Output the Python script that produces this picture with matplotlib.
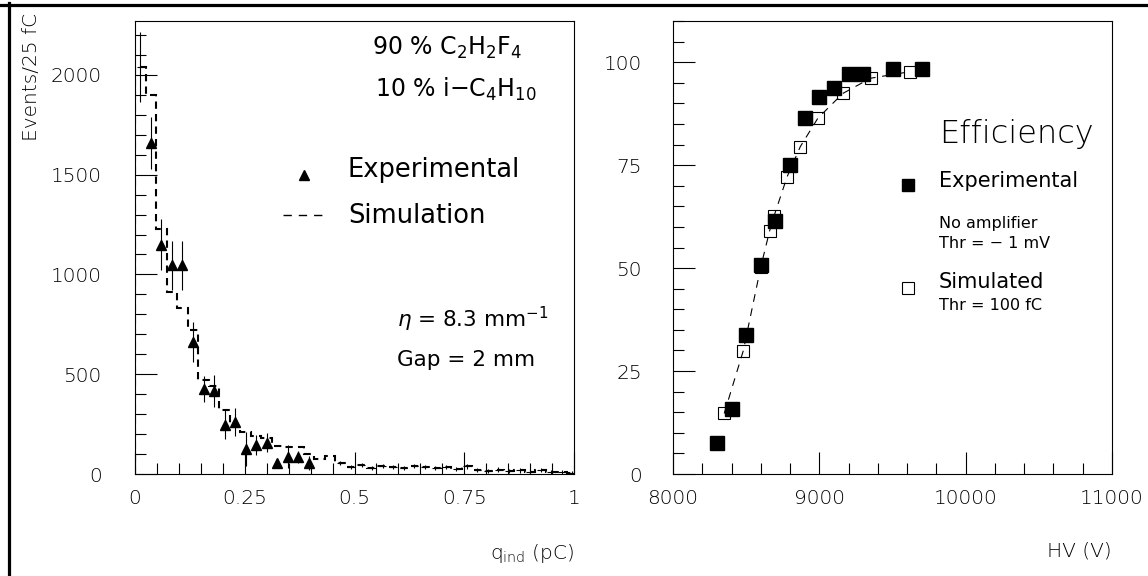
import numpy as np
import matplotlib
matplotlib.use('Agg')
import matplotlib.pyplot as plt
from matplotlib.lines import Line2D
from matplotlib.ticker import MultipleLocator, FixedLocator

plt.rcParams['font.family'] = ['DejaVu Sans']
plt.rcParams['mathtext.default'] = 'regular'

# induced charge spectrum (left), bin width in pC
bin_width = 0.024
exp_q = [0.037, 0.060, 0.084, 0.108, 0.132, 0.157, 0.180, 0.205,
         0.228, 0.252, 0.275, 0.300, 0.324, 0.348, 0.372, 0.396]
exp_counts = [1660, 1148, 1045, 1045, 663, 424, 416, 246,
              259, 125, 145, 157, 54, 87, 84, 54]
exp_err = [130, 128, 125, 125, 100, 65, 80, 73,
           70, 85, 50, 48, 20, 57, 29, 35]

sim_counts = [2040, 1900, 1230, 910, 830, 720, 470, 440, 320, 240,
              210, 190, 180, 140, 135, 135, 100, 75, 88, 55,
              35, 45, 30, 40, 35, 30, 40, 35, 30, 35,
              25, 38, 20, 15, 22, 15, 18, 12, 20, 10, 8, 5]
sim_err = [175] + [0] * 18 + [12] * 23

# efficiency curve (right)
exp_hv = [8300, 8400, 8500, 8600, 8700, 8800, 8900, 9000, 9100, 9200, 9300, 9500, 9700]
exp_eff = [7.5, 15.8, 33.8, 50.8, 61.5, 75.0, 86.5, 91.6, 93.7, 97.1, 97.1, 98.3, 98.3]
sim_hv = [8350, 8480, 8600, 8660, 8690, 8780, 8870, 8990, 9160, 9350, 9620]
sim_eff = [14.7, 29.9, 50.3, 59.0, 62.6, 72.2, 79.5, 86.4, 92.4, 96.1, 97.7]

q_ticks = [0, 0.25, 0.5, 0.75, 1]
q_ticklabels = ['0', '0.25', '0.5', '0.75', '1']
n_ticks = [0, 500, 1000, 1500, 2000]
hv_ticks = [8000, 9000, 10000, 11000]
eff_ticks = [0, 25, 50, 75, 100]

tick_fs = 14.5
lw = 0.8

fig = plt.figure(figsize=(11.48, 5.76), dpi=100)
ax1 = fig.add_axes([135 / 1148, 102 / 576, 439 / 1148, 453 / 576])
ax2 = fig.add_axes([673 / 1148, 102 / 576, 439 / 1148, 453 / 576])

for ax in (ax1, ax2):
    for s in ax.spines.values():
        s.set_linewidth(lw)
    ax.tick_params(which='both', direction='in', top=False, right=False,
                   width=lw, labelsize=tick_fs)
    ax.tick_params(which='major', length=15.8)
    ax.tick_params(which='minor', length=8)
    ax.tick_params(axis='x', pad=11)

# ---- left: charge spectrum ----
edges = np.arange(len(sim_counts) + 1) * bin_width
centers = edges[:-1] + bin_width / 2
sim_c = np.array(sim_counts)
sim_e = np.array(sim_err)
sel = sim_e > 0

ax1.stairs(sim_c, edges, color='k', lw=1.5, linestyle=(0, (3.5, 2.5)))
ax1.errorbar(centers[sel], sim_c[sel], yerr=sim_e[sel], xerr=bin_width * 0.35,
             fmt='none', ecolor='k', elinewidth=lw)
ax1.errorbar(exp_q, exp_counts, yerr=exp_err, fmt='^', color='k', ms=7.5,
             elinewidth=lw, capsize=0)

ax1.set_xlim(0, 1)
ax1.set_ylim(0, 2270)
ax1.xaxis.set_major_locator(FixedLocator(q_ticks))
ax1.set_xticklabels(q_ticklabels, fontweight='light')
ax1.xaxis.set_minor_locator(MultipleLocator(0.05))
ax1.yaxis.set_major_locator(FixedLocator(n_ticks))
ax1.set_yticklabels([str(v) for v in n_ticks], fontweight='light')
ax1.yaxis.set_minor_locator(MultipleLocator(100))
ax1.tick_params(axis='y', pad=24)

ax1.text(1.0, -0.188, 'q$_{ind}$ (pC)', transform=ax1.transAxes, ha='right',
         va='baseline', fontsize=tick_fs, fontweight='light')
ax1.text(-0.235, 1.018, 'Events/25 fC', transform=ax1.transAxes, rotation=90,
         ha='center', va='top', fontsize=tick_fs, fontweight='light')

ax1.text(0.540, 0.925, '90 % C$_2$H$_2$F$_4$', transform=ax1.transAxes,
         fontsize=17, va='baseline')
ax1.text(0.547, 0.832, '10 % i\u2212C$_4$H$_{10}$', transform=ax1.transAxes,
         fontsize=17, va='baseline')

# legend keys
ax1.add_line(Line2D([0.385], [0.660], transform=ax1.transAxes, marker='^',
                    color='k', ms=7.5, ls='none'))
ax1.text(0.485, 0.656, 'Experimental', transform=ax1.transAxes,
         fontsize=18.5, va='baseline')
ax1.add_line(Line2D([0.337, 0.426], [0.572, 0.572], transform=ax1.transAxes,
                    color='k', lw=1.0, linestyle=(0, (6, 5))))
ax1.text(0.485, 0.554, 'Simulation', transform=ax1.transAxes,
         fontsize=18.5, va='baseline')

ax1.text(0.597, 0.325, '$\\mathit{\\eta}$ = 8.3 mm$^{-1}$', transform=ax1.transAxes,
         fontsize=15.5, va='baseline')
ax1.text(0.597, 0.238, 'Gap = 2 mm', transform=ax1.transAxes,
         fontsize=15.5, va='baseline')

# ---- right: efficiency ----
ax2.plot(sim_hv, sim_eff, color='k', lw=lw, linestyle=(0, (7, 6)), zorder=2)
ax2.plot(sim_hv, sim_eff, 's', mfc='none', mec='k', mew=lw, ms=8, zorder=3)
ax2.plot(exp_hv, exp_eff, 's', color='k', ms=10, zorder=4)

ax2.set_xlim(8000, 11000)
ax2.set_ylim(0, 110)
ax2.xaxis.set_major_locator(FixedLocator(hv_ticks))
ax2.set_xticklabels([str(v) for v in hv_ticks], fontweight='light')
ax2.xaxis.set_minor_locator(MultipleLocator(200))
ax2.yaxis.set_major_locator(FixedLocator(eff_ticks))
ax2.set_yticklabels([str(v) for v in eff_ticks], fontweight='light')
ax2.yaxis.set_minor_locator(MultipleLocator(5))
ax2.tick_params(axis='y', pad=22.5)

ax2.text(1.0, -0.183, 'HV (V)', transform=ax2.transAxes, ha='right',
         va='baseline', fontsize=tick_fs, fontweight='light')

ax2.text(0.606, 0.731, 'Efficiency', transform=ax2.transAxes,
         fontsize=23, fontweight='light', va='baseline')
ax2.add_line(Line2D([0.535], [0.638], transform=ax2.transAxes, marker='s',
                    color='k', ms=8, ls='none'))
ax2.text(0.606, 0.634, 'Experimental', transform=ax2.transAxes,
         fontsize=15, va='baseline')
ax2.text(0.606, 0.543, 'No amplifier', transform=ax2.transAxes,
         fontsize=11.5, va='baseline')
ax2.text(0.606, 0.499, 'Thr = \u2212 1 mV', transform=ax2.transAxes,
         fontsize=11.5, va='baseline')
ax2.add_line(Line2D([0.535], [0.411], transform=ax2.transAxes, marker='s',
                    mfc='none', mec='k', mew=lw, ms=8, ls='none'))
ax2.text(0.606, 0.411, 'Simulated', transform=ax2.transAxes,
         fontsize=15, va='baseline')
ax2.text(0.606, 0.362, 'Thr = 100 fC', transform=ax2.transAxes,
         fontsize=11.5, va='baseline')

# page frame, top and left edges
fig.add_artist(Line2D([0, 1], [1 - 4.5 / 576] * 2, transform=fig.transFigure,
                      color='k', lw=2.3))
fig.add_artist(Line2D([8.5 / 1148] * 2, [0, 1 - 3 / 576], transform=fig.transFigure,
                      color='k', lw=2.3))

fig.savefig('out.png', dpi=100)
